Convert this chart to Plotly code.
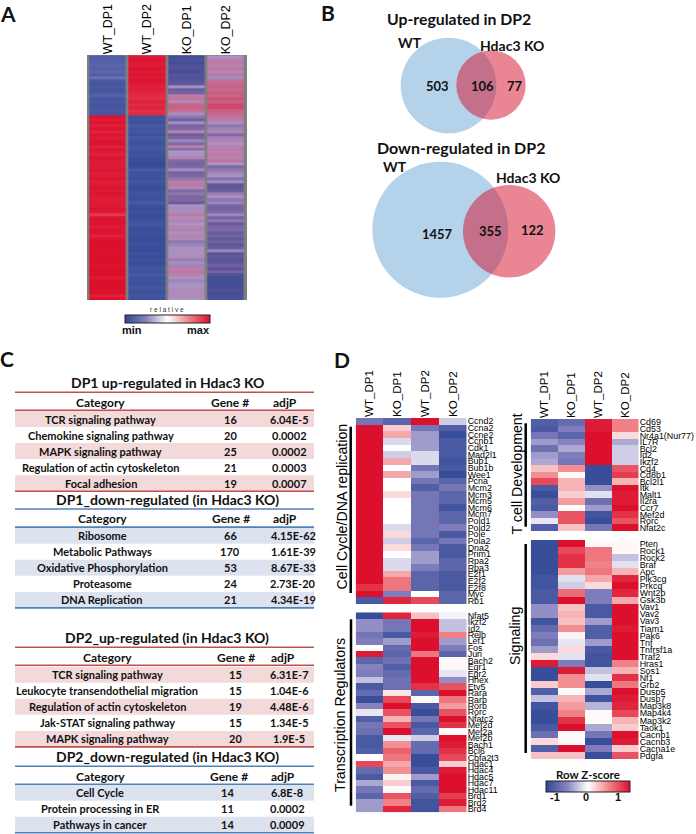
import plotly.graph_objects as go

W, H = 696, 834

# ---------- Panel A ----------
A_COLS_WT = ["WT_DP1", "WT_DP2"]
A_COLS_KO = ["KO_DP1", "KO_DP2"]
A_WT_DP1 = [-0.82,-0.8,-0.78,-0.76,-0.78,-0.74,-0.8,-0.66,-0.85,-0.88,-0.85,-0.88,-0.85,-0.78,-0.88,-0.85,-0.88,-0.88,-0.85,-0.88,
            0.98,0.95,0.98,0.92,0.98,0.92,0.98,0.94,0.98,0.98,0.92,0.98,0.95,0.92,0.98,0.95,0.95,0.94,0.98,0.94,0.95,0.98,0.94,0.95,0.98,0.95,0.98,0.95,0.94,0.95,
            0.95,0.98,0.95,0.82,0.98,0.98,0.98,0.95,0.98,0.98,0.92,0.98,1.0,1.0,1.0,0.98,1.0,1.0,1.0,1.0,0.98,1.0,1.0,1.0,0.95,1.0,1.0,1.0,1.0,1.0,0.92,1.0]
A_WT_DP2 = [0.95,0.98,0.95,0.95,0.98,0.95,0.98,0.95,0.98,0.95,0.92,0.94,0.9,0.88,0.86,0.93,0.88,0.92,0.86,0.88,
            -0.92,-0.9,-0.92,-0.85,-0.9,-0.88,-0.92,-0.85,-0.9,-0.92,-0.88,-0.85,-0.92,-0.9,-0.92,-0.95,-0.98,-0.95,-0.85,-0.92,-0.9,-0.92,-0.88,-0.92,-0.95,-0.92,-0.9,-0.92,-0.92,-0.85,
            -0.92,-0.95,-0.92,-0.95,-0.95,-0.92,-0.88,-0.92,-0.95,-0.92,-0.95,-0.95,-0.95,-0.92,-0.95,-0.95,-0.92,-0.95,-0.92,-0.95,-0.92,-0.88,-0.92,-0.85,-0.92,-0.9,-0.92,-0.88,-0.9,-0.92,-0.88,-0.92]
A_KO_DP1 = [-0.95,-0.85,-0.95,-0.8,-0.8,-0.9,-0.75,-0.8,-0.7,-0.65,-0.05,-0.5,-0.4,0.3,0.35,0.15,0.5,0.55,0.4,0.1,
            -0.2,-0.45,-0.05,-0.4,-0.3,0.2,-0.5,-0.35,-0.1,
            -0.3,0.25,-0.3,0.0,0.05,0.2,-0.3,-0.4,-0.3,-0.05,-0.4,-0.35,-0.2,0.25,0.3,0.15,-0.3,-0.2,-0.35,-0.3,-0.5,0.05,-0.05,0.1,0.3,0.05,0.25,0.0,
            0.15,0.25,0.05,0.2,0.1,-0.2,-0.1,0.05,0.05,0.05,0.1,-0.15,0.1,-0.1,0.25,0.35,0.2,0.05,-0.1,0.05,0.0,0.1,0.1,0.15,0.0]
A_KO_DP2 = [0.05,0.25,0.3,0.2,0.35,0.15,0.3,-0.05,0.4,0.5,0.55,0.45,0.6,0.5,0.65,0.55,0.7,0.7,0.55,0.5,
            0.35,0.3,0.1,-0.2,-0.1,0.2,-0.3,-0.1,0.25,
            0.0,0.25,0.3,0.2,0.3,0.2,0.35,0.0,-0.3,-0.2,-0.1,0.05,-0.25,-0.05,-0.6,-0.65,-0.5,-0.15,0.1,-0.2,-0.1,-0.35,-0.45,-0.3,-0.1,-0.4,-0.2,-0.55,
            -0.35,-0.3,-0.55,-0.4,-0.6,-0.45,-0.65,-0.5,-0.1,-0.7,-0.6,-0.75,-0.65,-0.45,-0.7,-0.4,-0.8,-0.9,-0.95,-0.9,-0.95,-0.85,-0.95,-0.9,-0.85]

# ---------- Panel B ----------
VENN_UP = ("Up-regulated in DP2", 503, 106, 77)
VENN_DOWN = ("Down-regulated in DP2", 1457, 355, 122)

# ---------- Panel C ----------
T1_TITLE = "DP1 up-regulated in Hdac3 KO"
T1_CAT = ["TCR signaling pathway", "Chemokine signaling pathway", "MAPK signaling pathway", "Regulation of actin cytoskeleton", "Focal adhesion"]
T1_N = ["16", "20", "25", "21", "19"]
T1_P = ["6.04E-5", "0.0002", "0.0002", "0.0003", "0.0007"]
T2_TITLE = "DP1_down-regulated (in Hdac3 KO)"
T2_CAT = ["Ribosome", "Metabolic Pathways", "Oxidative Phosphorylation", "Proteasome", "DNA Replication"]
T2_N = ["66", "170", "53", "24", "21"]
T2_P = ["4.15E-62", "1.61E-39", "8.67E-33", "2.73E-20", "4.34E-19"]
T3_TITLE = "DP2_up-regulated (in Hdac3 KO)"
T3_CAT = ["TCR signaling pathway", "Leukocyte transendothelial migration", "Regulation of actin cytoskeleton", "Jak-STAT signaling pathway", "MAPK signaling pathway"]
T3_N = ["15", "15", "19", "15", "20"]
T3_P = ["6.31E-7", "1.04E-6", "4.48E-6", "1.34E-5", "1.9E-5"]
T4_TITLE = "DP2_down-regulated (in Hdac3 KO)"
T4_CAT = ["Cell Cycle", "Protein processing in ER", "Pathways in cancer"]
T4_N = ["14", "11", "14"]
T4_P = ["6.8E-8", "0.0002", "0.0009"]

# ---------- Panel D ----------
D_COLS = ["WT_DP1", "KO_DP1", "WT_DP2", "KO_DP2"]
CC_GENES = ["Ccnd2","Ccna2","Ccne2","Ccnb1","Cdk1","Mad2l1","Bub1","Bub1b","Wee1","Pcna","Mcm2","Mcm3","Mcm5","Mcm6","Mcm7","Pold1","Pold2","Pole","Pola2","Dna2","Prim1","Rpa2","Rpa3","E2f1","E2f2","E2f8","Myc","Rb1"]
CC_VALUES = [[-0.6,-0.75,1,-0.2],[1,0.2,-0.6,-0.8],[1,0.35,-0.4,-0.95],[1,-0.15,-0.4,-0.85],[1,0,-0.4,-0.85],[1,-0.2,-0.15,-0.85],[1,0.35,-0.15,-0.9],
             [1,0,-0.6,-0.85],[1,0.35,-0.4,-0.95],[1,0,-0.6,-0.75],[1,0,-0.8,-0.6],[1,0.15,-0.6,-0.75],[1,0,-0.6,-0.75],[1,0,-0.6,-0.9],[1,0,-0.6,-0.75],
             [1,0,-0.6,-0.75],[1,-0.15,-0.6,-0.55],[1,0.15,-0.6,-0.85],[1,-0.2,-0.75,-0.6],[1,0.15,-0.6,-0.85],[1,0,-0.4,-0.85],[1,-0.15,-0.4,-0.75],
             [1,-0.15,-0.55,-0.75],[1,0.35,-0.75,-0.85],[1,0.55,-0.75,-0.85],[0.85,0.55,-0.75,-0.85],[1,-0.55,0,-0.75],[-0.85,0.9,0.75,-0.75]]
TR_GENES = ["Nfat5","Ikzf2","Id2","Relb","Lef1","Fos","Jun","Bach2","Egr1","Egr2","Hhex","Etv5","Rara","Rarb","Rorb","Rorc","Nfatc2","Mef2d","Mef2a","Mef2b","Bach1","Bcl6","Cbfa2t3","Hdac1","Hdac4","Hdac5","Hdac7","Hdac11","Brd1","Brd2","Brd4"]
TR_VALUES = [[-0.95,0.9,0.25,-0.05],[-0.45,-0.6,1,-0.25],[-0.45,-0.6,1,-0.25],[-0.6,-0.85,0.95,0.5],[-0.55,-0.4,1,-0.4],[0,-0.7,1,-0.55],[0.95,-0.75,0.55,-0.75],
             [-0.75,-0.65,1,0.03],[-0.5,-0.8,1,0.03],[-0.55,-0.7,1,-0.1],[-0.25,-0.65,1,-0.45],[-0.85,-0.65,0.85,0.7],[-0.7,0.1,-0.75,1],[-0.95,0.75,0.02,0.55],
             [-0.5,1,-0.85,0.4],[-0.1,0.7,-0.95,0.7],[-0.8,0.3,-0.6,1],[-0.6,0.7,-0.85,0.85],[-0.65,1,-0.75,0.02],[-0.85,-0.1,-0.2,1],[-0.85,0.45,-0.7,0.95],
             [-0.8,0.65,-0.7,0.85],[0,0.55,-0.95,0.75],[0.75,0.35,-0.95,0.2],[-0.7,0.45,-0.85,0.95],[-0.85,0.05,-0.4,1],[-0.35,0.2,-0.85,1],[-0.6,0.02,-0.7,1],
             [-0.75,0.7,-0.8,0.8],[-0.4,0.5,-0.9,0.95],[-0.4,0.9,-0.9,0.55]]
TC_GENES = ["Cd69","Cd53","Nr4a1(Nur77)","IL7R","Bcl2","Id2","Ikzf2","Cd4","Cd8b1","Bcl2l1","Itk","Malt1","Il2ra","Ccr7","Mef2d","Rorc","Nfat2c"]
TC_VALUES = [[-0.8,-0.7,0.95,0.5],[-0.85,-0.55,0.95,0.5],[-0.6,-0.75,1,0.15],[-0.4,-0.5,1,-0.35],[-0.65,-0.35,1,-0.2],[-0.4,-0.55,1,-0.2],[-0.35,-0.6,1,-0.2],
             [0.25,0.45,-0.95,0.7],[0.45,0.02,-0.95,0.8],[0.75,0.3,-0.95,0.3],[-0.85,0.3,-0.45,1],[-0.95,0.2,-0.12,0.95],[-0.8,0.4,-0.65,0.95],[-0.85,0.02,-0.4,1],
             [-0.45,0.7,-0.9,0.85],[-0.1,0.7,-0.95,0.7],[-0.8,0.25,-0.6,1]]
SG_GENES = ["Pten","Rock1","Rock2","Braf","Apc","Pik3cg","Prkcq","Wnt2b","Gsk3b","Vav1","Vav2","Vav3","Tiam1","Pak6","Tnf","Tnfrsf1a","Traf2","Hras1","Sos1","Nf1","Grb2","Dusp5","Dusp7","Map3k8","Map4k4","Map3k2","Taok1","Cacnb1","Cacnb3","Cacna1e","Pdgfa"]
SG_VALUES = [[-0.95,1,0.03,0.03],[-0.95,0.75,0.55,0.03],[-0.95,0.85,0.55,-0.25],[-0.95,0.85,0.5,-0.12],[-0.95,0.4,0.55,0.3],[-0.9,-0.12,0.35,0.9],[-0.9,-0.2,0.15,1],
             [-0.85,0.6,-0.55,0.9],[-0.85,1,-0.55,0.35],[-0.45,0.25,-0.85,1],[-0.45,0.3,-0.85,1],[-0.9,0.25,-0.4,1],[-0.7,0.45,-0.8,0.95],[-0.55,0.05,-0.8,1],
             [-0.65,-0.1,-0.4,1],[-0.4,0.15,-0.85,1],[0.15,-0.12,-0.9,1],[0.95,-0.55,-0.9,0.5],[-0.95,0.95,-0.25,0.3],[-0.95,0.45,-0.12,0.85],[0.2,0.45,-0.95,0.55],
             [-0.8,0.02,-0.35,1],[-0.25,0.3,-0.9,0.95],[-0.9,0.4,-0.3,0.9],[-0.95,0.5,0.02,0.75],[-0.95,0.85,0.02,0.3],[-0.85,1,-0.35,0.2],[-0.65,0.02,-0.6,1],
             [0.15,0.03,-0.95,0.95],[-0.8,1,-0.55,0.2],[0.25,0.25,-0.95,0.7]]

# ---------- Styles ----------
HEAT = [[0, "rgb(47,72,150)"], [0.25, "rgb(135,130,190)"], [0.5, "rgb(255,255,255)"], [0.75, "rgb(240,130,135)"], [1, "rgb(220,15,45)"]]
BLEND = [[0, "rgb(62,76,150)"], [0.2, "rgb(98,88,155)"], [0.35, "rgb(128,105,165)"], [0.5, "rgb(168,148,198)"],
         [0.65, "rgb(188,122,165)"], [0.8, "rgb(203,92,125)"], [1, "rgb(220,20,50)"]]
SANS = "Liberation Sans, Arial"
CAL = "Lato, Noto Sans"
RED_L, BLUE_L = "#c0504d", "#4f81bd"
PINK_R, BLUE_R = "#f2dadb", "#dce3ef"

fig = go.Figure()
layout = dict(width=W, height=H, margin=dict(l=0, r=0, t=0, b=0, pad=0), autosize=False,
              paper_bgcolor="white", plot_bgcolor="rgba(0,0,0,0)", showlegend=False,
              xaxis=dict(domain=[0, 1], range=[0, W], visible=False, fixedrange=True),
              yaxis=dict(domain=[0, 1], range=[H, 0], visible=False, fixedrange=True))
shapes, annos = [], []
_n = [1]


def new_axes(left, right, top, bottom, xticks=None, yticks=None, xsize=11.6):
    _n[0] += 1
    k = _n[0]
    layout[f"xaxis{k}"] = dict(domain=[left / W, right / W], anchor=f"y{k}", side="top", type="category",
                               tickmode="array", tickvals=xticks or [], ticktext=xticks or [],
                               categoryorder="array", categoryarray=xticks or None,
                               ticks="", ticklen=0, showline=False, showgrid=False, zeroline=False, tickangle=-90,
                               tickfont=dict(family=SANS, size=xsize, color="#000"), automargin=False)
    layout[f"yaxis{k}"] = dict(domain=[1 - bottom / H, 1 - top / H], anchor=f"x{k}", side="right",
                               autorange="reversed", type="category",
                               tickmode="array", tickvals=yticks or [], ticktext=yticks or [],
                               ticks="", ticklen=0, showline=False, showgrid=False, zeroline=False,
                               tickfont=dict(family=SANS, size=8.9, color="#000"), automargin=False)
    return f"x{k}", f"y{k}"


def text(x, y, s, size=11, family=CAL, bold=True, angle=0, color="#111", xanchor="center"):
    annos.append(dict(x=x, y=y, xref="x", yref="y", text=f"<b>{s}</b>" if bold else s, showarrow=False,
                      font=dict(family=family, size=size, color=color), textangle=angle,
                      xanchor=xanchor, yanchor="middle"))


def line(x0, y0, x1, y1, color, width):
    shapes.append(dict(type="line", xref="x", yref="y", x0=x0, y0=y0, x1=x1, y1=y1, line=dict(color=color, width=width), layer="above"))


def rect(x0, y0, x1, y1, color):
    shapes.append(dict(type="rect", xref="x", yref="y", x0=x0, y0=y0, x1=x1, y1=y1, fillcolor=color, line=dict(width=0), layer="below"))


# Venn (marker traces on the page axes)
VENN_CIRCLES = [  # cx, cy, r in page pixels
    (448.5, 85.5, 47.8, 'wt'), (491, 85, 34.7, 'ko'), (440.3, 229.7, 68, 'wt'), (509.2, 231.3, 46.2, 'ko')]
for cx, cy, r, kind in VENN_CIRCLES:
    fig.add_trace(go.Scatter(x=[cx], y=[cy], mode="markers", xaxis="x", yaxis="y", hoverinfo="skip",
                             marker=dict(size=2 * r, line=dict(width=0),
                                         color="rgb(180,210,234)" if kind == "wt" else "rgba(214,13,41,0.5)")))
text(459, 18, VENN_UP[0], 15.8)
text(409.7, 42, "WT", 14)
text(512, 45, "Hdac3 KO", 14)
for x, v in zip((437.3, 482, 514.7), VENN_UP[1:]):
    text(x, 86, str(v), 13)
text(461.3, 147, VENN_DOWN[0], 16)
text(394.7, 166, "WT", 14)
text(528, 177.7, "Hdac3 KO", 14)
for x, y, v in zip((437.3, 490.7, 532), (234, 231, 230), VENN_DOWN[1:]):
    text(x, y, str(v), 13)

# Panel letters
for s, x, y in (("A", 8, 13), ("B", 328, 12), ("C", 7, 358), ("D", 342, 359)):
    text(x, y, s, 21)

# Panel A heatmap
rect(87, 55, 247, 300, "#7f7f7f")
xa, ya = new_axes(88.3, 245.5, 55.3, 300, xticks=A_COLS_WT + A_COLS_KO, xsize=12.4)
rows_a = list(range(len(A_WT_DP1)))
fig.add_trace(go.Heatmap(x=A_COLS_WT, y=rows_a, z=[list(r) for r in zip(A_WT_DP1, A_WT_DP2)], xaxis=xa, yaxis=ya,
                         zmin=-1, zmax=1, colorscale=HEAT, xgap=2.7, hoverinfo="skip", showscale=True,
                         colorbar=dict(orientation="h", x=124.5 / W, xanchor="left", y=1 - 314.7 / H, yanchor="top",
                                       len=84.5, lenmode="pixels", thickness=8, thicknessmode="pixels",
                                       outlinecolor="#222", outlinewidth=1, xpad=0, ypad=0, ticks="",
                                       showticklabels=False)))
fig.add_trace(go.Heatmap(x=A_COLS_KO, y=rows_a, z=[list(r) for r in zip(A_KO_DP1, A_KO_DP2)], xaxis=xa, yaxis=ya,
                         zmin=-1, zmax=1, colorscale=BLEND, xgap=2.7, hoverinfo="skip", showscale=False))
text(166.7, 309.7, "r e l a t i v e", 6.5, family=SANS, bold=False, color="#333")
text(132, 330, "min", 11, family=SANS)
text(198, 330, "max", 11, family=SANS)


# Panel C tables
def table(title, cats, ns, ps, title_y, line_col, row_col, cat_x, head_x, gene_x, val_x, first_row_y):
    text(167, title_y, title, 14)
    line(15, title_y + 9.5, 314, title_y + 9.5, line_col, 1.6)
    header_y = title_y + 19.3
    text(head_x[0], header_y, "Category", 12)
    text(head_x[1], header_y, "Gene #", 12)
    text(head_x[2], header_y, "adjP", 12)
    line(15, header_y + 8.3, 314, header_y + 8.3, line_col, 1.6)
    for i, (c, n, p) in enumerate(zip(cats, ns, ps)):
        y = first_row_y + 16.05 * i
        if i % 2 == 0:
            rect(15, y - 8, 314, y + 8, row_col)
        text(cat_x, y, c, 11)
        text(gene_x, y, n, 11)
        text(val_x, y, p, 11)
    end = first_row_y + 16.05 * (len(cats) - 1) + 8
    line(15, end, 314, end, line_col, 1.6)


table(T1_TITLE, T1_CAT, T1_N, T1_P, 382.7, RED_L, PINK_R, 100.5, (100.5, 230, 285), 230, 289, 419)
table(T2_TITLE, T2_CAT, T2_N, T2_P, 499.5, BLUE_L, BLUE_R, 102, (102, 231, 285), 230, 293, 535.7)
table(T3_TITLE, T3_CAT, T3_N, T3_P, 637.7, RED_L, PINK_R, 107, (107, 235.7, 283), 235.7, 289, 674.7)
table(T4_TITLE, T4_CAT, T4_N, T4_P, 756.7, BLUE_L, BLUE_R, 100, (100, 229, 283), 227, 287, 792.7)

# Panel D heatmaps
groups = [
    (355.7, 466.7, 418, 604, CC_GENES, CC_VALUES, True),
    (355.7, 466.7, 612.3, 812.3, TR_GENES, TR_VALUES, False),
    (530.7, 638.7, 419, 531, TC_GENES, TC_VALUES, True),
    (530.7, 638.7, 540, 759.3, SG_GENES, SG_VALUES, False),
]
for i, (l, r, t, b, genes, vals, show_cols) in enumerate(groups):
    xa, ya = new_axes(l, r, t, b, xticks=D_COLS, yticks=genes)
    if not show_cols:
        layout[xa.replace("x", "xaxis")]["showticklabels"] = False
    if i == 3:
        kw = dict(showscale=True, colorbar=dict(orientation="h", x=545.7 / W, xanchor="left", y=1 - 781 / H, yanchor="top",
                                                len=84.3, lenmode="pixels", thickness=10.5, thicknessmode="pixels",
                                                outlinecolor="#222", outlinewidth=1, xpad=0, ypad=0, ticks="",
                                                showticklabels=False))
    else:
        kw = dict(showscale=False)
    fig.add_trace(go.Heatmap(x=D_COLS, y=genes, z=vals, xaxis=xa, yaxis=ya, zmin=-1, zmax=1, colorscale=HEAT, hoverinfo="skip", **kw))

text(341.7, 506.7, "Cell Cycle/DNA replication", 14.2, family=SANS, bold=False, angle=-90, color="#000")
line(350.7, 426.7, 350.7, 593, "black", 2.5)
text(339.3, 714.7, "Transcription Regulators", 14.2, family=SANS, bold=False, angle=-90, color="#000")
line(351, 619.3, 351, 805.7, "black", 2.5)
text(516, 474.5, "T cell Development", 14.2, family=SANS, bold=False, angle=-90, color="#000")
line(525.7, 423.3, 525.7, 526.7, "black", 2.5)
text(515, 636, "Signaling", 14.2, family=SANS, bold=False, angle=-90, color="#000")
line(525.7, 544, 525.7, 753, "black", 2.5)
text(587.7, 774, "Row Z-score", 11.5)
for x, s in ((555, "-1"), (585.7, "0"), (618, "1")):
    text(x, 797, s, 11, family=SANS)

layout["shapes"] = shapes
layout["annotations"] = annos
fig.update_layout(**layout)
fig.write_html("out.html", post_script="document.body.style.margin='0';", config={"displayModeBar": False})
